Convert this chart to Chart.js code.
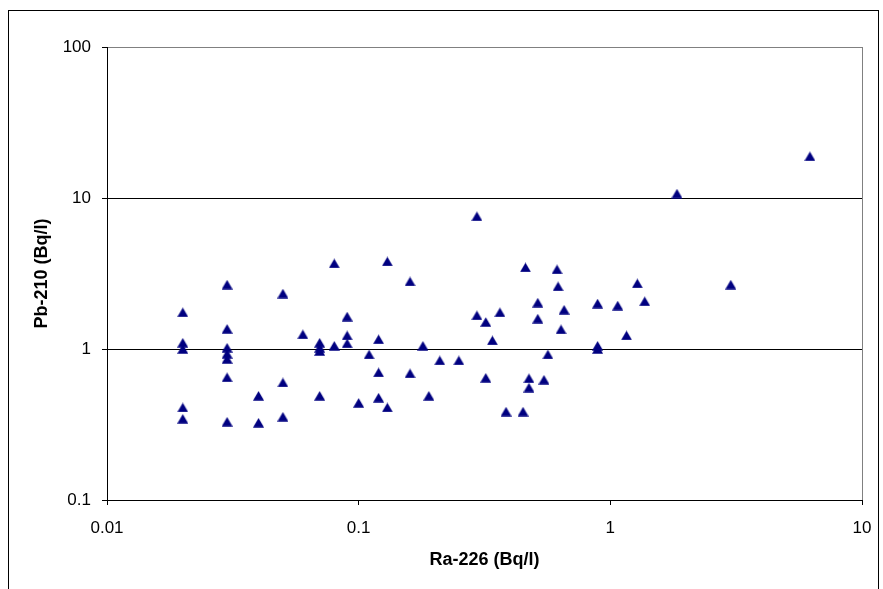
<!DOCTYPE html>
<html>
<head>
<meta charset="utf-8">
<script src="https://cdn.jsdelivr.net/npm/chart.js@4/dist/chart.umd.min.js"></script>
<style>
  html, body { margin: 0; padding: 0; background: #fff; }
  #wrap { position: relative; width: 883px; height: 589px; }
  #frame {
    position: absolute; left: 8px; top: 10px; width: 869px; height: 600px;
    border: 1px solid #000; border-bottom: none; pointer-events: none;
  }
</style>
</head>
<body>
<div id="wrap">
  <canvas id="chart" width="883" height="589"></canvas>
  <div id="frame"></div>
</div>
<script>
// Ra-226 (x) and Pb-210 (y), Bq/l
const ra226 = [
  0.02, 0.02, 0.02, 0.02, 0.02,
  0.03, 0.03, 0.03, 0.03, 0.03, 0.03, 0.03,
  0.04, 0.04,
  0.05, 0.05, 0.05,
  0.06,
  0.07, 0.07, 0.07, 0.07,
  0.08, 0.08,
  0.09, 0.09, 0.09,
  0.10, 0.11,
  0.12, 0.12, 0.12,
  0.13, 0.13,
  0.16, 0.16,
  0.18, 0.19, 0.21, 0.25,
  0.295, 0.295,
  0.32, 0.32,
  0.34, 0.364, 0.385, 0.45, 0.46,
  0.475, 0.475,
  0.515, 0.515,
  0.545, 0.565, 0.614, 0.62, 0.637, 0.655,
  0.89, 0.89, 0.89,
  1.07, 1.16, 1.28, 1.37, 1.84, 3.01, 6.21
];
const pb210 = [
  1.75, 1.10, 1.00, 0.41, 0.345,
  2.67, 1.36, 1.02, 0.93, 0.86, 0.65, 0.33,
  0.49, 0.325,
  2.33, 0.60, 0.356,
  1.25,
  1.10, 1.02, 0.97, 0.49,
  3.69, 1.05,
  1.64, 1.23, 1.09,
  0.44, 0.92,
  1.16, 0.70, 0.476,
  3.8, 0.41,
  2.8, 0.69,
  1.05, 0.49, 0.84, 0.84,
  7.57, 1.67,
  1.51, 0.645,
  1.14, 1.75, 0.385, 0.385, 3.47,
  0.64, 0.555,
  2.03, 1.59,
  0.626, 0.92, 3.37, 2.6, 1.35, 1.82,
  2.0, 1.05, 1.0,
  1.94, 1.23, 2.72, 2.07, 10.7, 2.67, 18.9
];
const xTicks = [0.01, 0.1, 1, 10];
const yTicks = [0.1, 1, 10, 100];

const NAVY = '#000080';

// triangle marker centred on its box, like the spreadsheet marker
function triangleMarker() {
  const c = document.createElement('canvas');
  c.width = 11; c.height = 10;
  const ctx = c.getContext('2d');
  ctx.fillStyle = NAVY;
  ctx.beginPath();
  ctx.moveTo(5.5, 0.2);
  ctx.lineTo(11, 9.7);
  ctx.lineTo(0, 9.7);
  ctx.closePath();
  ctx.fill();
  return c;
}

const points = ra226.map((x, i) => ({ x, y: pb210[i] }));
const font = { family: '"Liberation Sans", Arial, sans-serif', size: 17 };
const titleFont = { family: '"Liberation Sans", Arial, sans-serif', size: 18, weight: 'bold' };

new Chart(document.getElementById('chart'), {
  type: 'scatter',
  data: {
    datasets: [{
      data: points,
      pointStyle: triangleMarker(),
      pointRadius: 6,
      pointHoverRadius: 6,
      backgroundColor: NAVY,
      borderColor: NAVY,
    }],
  },
  options: {
    responsive: false,
    animation: false,
    layout: { padding: { top: 47, right: 21, left: 0, bottom: 0 } },
    plugins: { legend: { display: false }, tooltip: { enabled: false } },
    scales: {
      x: {
        type: 'logarithmic',
        min: 0.01,
        max: 10,
        afterBuildTicks: (s) => { s.ticks = xTicks.map(v => ({ value: v })); },
        afterFit: (s) => {
          s.height = 89;
          s.paddingLeft = 0;
          s.paddingRight = 0;
        },
        ticks: {
          color: '#000', font, padding: 13, maxRotation: 0, autoSkip: false,
          callback: (v) => String(v),
        },
        grid: {
          color: (c) => (c.tick && c.tick.value === 10 ? '#808080' : 'rgba(0,0,0,0)'),
          tickColor: '#000',
          tickLength: 5,
          lineWidth: 1,
        },
        border: { color: '#000', width: 1 },
        title: {
          display: true, text: 'Ra-226 (Bq/l)', color: '#000', font: titleFont,
          padding: { top: 0, bottom: 18 },
        },
      },
      y: {
        type: 'logarithmic',
        min: 0.1,
        max: 100,
        afterBuildTicks: (s) => { s.ticks = yTicks.map(v => ({ value: v })); },
        afterFit: (s) => {
          s.width = 107;
          s.paddingTop = 0;
          s.paddingBottom = 0;
        },
        ticks: {
          color: '#000', font, padding: 11, autoSkip: false,
          callback: (v) => String(v),
        },
        grid: {
          color: (c) => {
            if (!c.tick) return 'rgba(0,0,0,0)';
            if (c.tick.value === 100) return '#808080';
            return '#000';
          },
          tickColor: '#000',
          tickLength: 5,
          lineWidth: 1,
        },
        border: { color: '#000', width: 1 },
        title: {
          display: true, text: 'Pb-210 (Bq/l)', color: '#000', font: titleFont,
          padding: { top: 31, bottom: 0 },
        },
      },
    },
  },
});
</script>
</body>
</html>
